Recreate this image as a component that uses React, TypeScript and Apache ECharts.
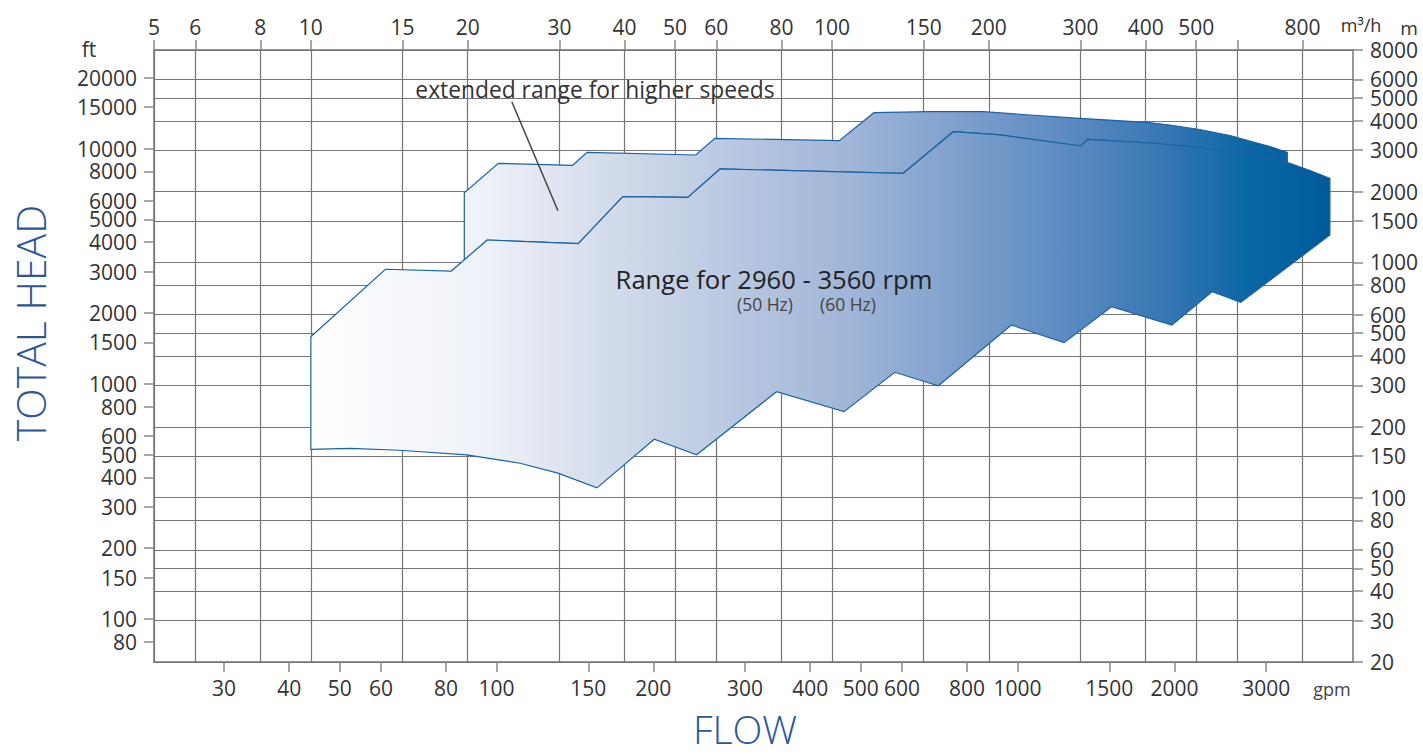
import React, { useEffect, useRef } from 'react';
import * as echarts from 'echarts';

// Unit conversions between the paired axes
const M3H_TO_GPM = 4.402868;
const M_TO_FT = 3.28084;

// Axis ranges (primary units: m³/h and m)
const flowMin = 5;
const flowMax = 1000;
const headMin = 20;
const headMax = 8000;

// Tick values
const m3hTicks = [5, 6, 8, 10, 15, 20, 30, 40, 50, 60, 80, 100, 150, 200, 300, 400, 500, 600, 800];
const m3hLabels = [5, 6, 8, 10, 15, 20, 30, 40, 50, 60, 80, 100, 150, 200, 300, 400, 500, 800];
const gpmTicks = [30, 40, 50, 60, 80, 100, 150, 200, 300, 400, 500, 600, 800, 1000, 1500, 2000, 3000];
const mTicks = [20, 30, 40, 50, 60, 80, 100, 150, 200, 300, 400, 500, 600, 800, 1000, 1500, 2000, 3000, 4000, 5000, 6000, 8000];
const ftTicks = [80, 100, 150, 200, 300, 400, 500, 600, 800, 1000, 1500, 2000, 3000, 4000, 5000, 6000, 8000, 10000, 15000, 20000];

// Range for 2960 - 3560 rpm : [flow m³/h, head m]
const mainUpper = [
  [10, 483], [13.9, 935], [18.6, 919], [21.8, 1245], [32.6, 1201], [39.7, 1903], [52.9, 1891],
  [61.0, 2496], [137, 2393], [171, 3596], [210, 3482], [301, 3126], [309, 3338], [408, 3219],
  [508, 3080], [644, 2862], [757, 2638], [827, 2459], [903, 2278]
];
const mainLower = [
  [903, 1308], [609, 677], [537, 751], [449, 542], [344, 648], [279, 456], [221, 542], [160, 299],
  [132, 341], [105.5, 232], [78.3, 282], [55.0, 152], [45.6, 177], [35.4, 110], [29.8, 127],
  [25.2, 140], [19.9, 152], [14.8, 159], [11.9, 162], [10, 160.5]
];
// Extended range for higher speeds (upper boundary)
const extendedUpper = [
  [19.7, 1023], [19.7, 1979], [22.9, 2638], [31.8, 2587], [33.9, 2938], [54.8, 2862], [59.6, 3370],
  [103.3, 3292], [120.4, 4330], [154, 4378], [195, 4375], [240, 4234], [299, 4100], [402, 3942],
  [445, 3839], [508, 3674], [581, 3464], [644, 3250], [693, 3110], [748, 2938], [748, 2654]
];
// Leader line of the annotation
const leaderLine = [[24.3, 4822], [29.8, 1659]];

const FONT = '"Open Sans", "Noto Sans", sans-serif';
const gridColor = '#747474';
const labelColor = '#333333';
const outlineColor = '#1b62a2';

const gradientStops = [
  { offset: 0, color: '#ffffff' },
  { offset: 0.03, color: '#fcfdff' },
  { offset: 0.17, color: '#eef1f8' },
  { offset: 0.28, color: '#d6deec' },
  { offset: 0.37, color: '#c3cfe5' },
  { offset: 0.53, color: '#a0b5d7' },
  { offset: 0.68, color: '#7097c8' },
  { offset: 0.78, color: '#4f83bd' },
  { offset: 0.85, color: '#3074b0' },
  { offset: 0.92, color: '#0a67a6' },
  { offset: 1, color: '#005a9a' }
];

const mainPolygon = [...mainUpper, ...mainLower];
const extStart = extendedUpper[0][0];
const extEnd = extendedUpper[extendedUpper.length - 1][0];
const extendedPolygon = [
  ...extendedUpper,
  ...mainUpper.filter((p) => p[0] > extStart && p[0] < extEnd).reverse()
];

const gradFrom = mainUpper[0][0];
const gradTo = mainUpper[mainUpper.length - 1][0];

function polygonSeries(name: string, pts: number[][], z: number) {
  return {
    type: 'custom',
    name,
    coordinateSystem: 'cartesian2d',
    xAxisIndex: 1,
    yAxisIndex: 1,
    z,
    silent: true,
    data: pts,
    encode: { x: 0, y: 1 },
    renderItem: (params: any, api: any) => {
      if (params.dataIndex !== 0) return null;
      const points = pts.map((p) => api.coord(p));
      const x0 = api.coord([gradFrom, 100])[0];
      const x1 = api.coord([gradTo, 100])[0];
      return {
        type: 'polygon',
        shape: { points },
        style: {
          fill: new echarts.graphic.LinearGradient(x0, 0, x1, 0, gradientStops, true),
          stroke: outlineColor,
          lineWidth: 1.2,
          lineJoin: 'miter'
        }
      };
    }
  };
}

const labelStyle = {
  color: labelColor,
  fontFamily: FONT,
  fontSize: 21,
  lineHeight: 17,
  formatter: (v: number) => String(Math.round(v))
};

const txt = (x: number, y: number, text: string, fontSize: number, fill: string, extra: any = {}) => ({
  type: 'text',
  z: 100,
  x,
  y,
  ...extra,
  style: {
    text,
    fill,
    fontFamily: FONT,
    fontSize,
    lineHeight: Math.round(fontSize * 0.9),
    align: 'center',
    verticalAlign: 'middle',
    ...(extra.style || {})
  }
});

const option: any = {
  animation: false,
  backgroundColor: '#ffffff',
  grid: { left: 154, right: 70, top: 50, bottom: 92, containLabel: false, outerBoundsMode: 'none' },
  xAxis: [
    {
      type: 'log',
      position: 'bottom',
      min: flowMin * M3H_TO_GPM,
      max: flowMax * M3H_TO_GPM,
      axisLine: { show: true, lineStyle: { color: gridColor, width: 1.5 } },
      axisTick: { show: true, length: 10, customValues: gpmTicks, lineStyle: { color: '#8a8a8a', width: 1.5 } },
      axisLabel: { ...labelStyle, customValues: gpmTicks, margin: 17 },
      splitLine: { show: false },
      minorTick: { show: false },
      minorSplitLine: { show: false }
    },
    {
      type: 'log',
      position: 'top',
      min: flowMin,
      max: flowMax,
      axisLine: { show: true, lineStyle: { color: gridColor, width: 1.5 } },
      axisTick: { show: true, length: 10, customValues: m3hTicks, lineStyle: { color: '#8a8a8a', width: 1.5 } },
      axisLabel: { ...labelStyle, customValues: m3hLabels, margin: 15 },
      splitLine: { show: true, lineStyle: { color: gridColor, width: 1.2 } }
    }
  ],
  yAxis: [
    {
      type: 'log',
      position: 'left',
      min: headMin * M_TO_FT,
      max: headMax * M_TO_FT,
      axisLine: { show: true, lineStyle: { color: gridColor, width: 1.5 } },
      axisTick: { show: true, length: 10, customValues: ftTicks, lineStyle: { color: '#8a8a8a', width: 1.5 } },
      axisLabel: { ...labelStyle, customValues: ftTicks, margin: 17 },
      splitLine: { show: false }
    },
    {
      type: 'log',
      position: 'right',
      min: headMin,
      max: headMax,
      axisLine: { show: true, lineStyle: { color: gridColor, width: 1.5 } },
      axisTick: { show: true, length: 10, customValues: mTicks, lineStyle: { color: '#8a8a8a', width: 1.5 } },
      axisLabel: { ...labelStyle, customValues: mTicks, margin: 17 },
      splitLine: { show: true, lineStyle: { color: gridColor, width: 1.2 } }
    }
  ],
  series: [
    polygonSeries('extended range for higher speeds', extendedPolygon, 3),
    polygonSeries('Range for 2960 - 3560 rpm', mainPolygon, 4),
    {
      type: 'line',
      name: 'leader',
      xAxisIndex: 1,
      yAxisIndex: 1,
      data: leaderLine,
      symbol: 'none',
      silent: true,
      z: 6,
      lineStyle: { color: '#444444', width: 1.5 }
    }
  ],
  graphic: {
    elements: [
      txt(89, 49, 'ft', 21, labelColor),
      txt(1361, 25, 'm³/h', 18, labelColor),
      txt(1409, 28, 'm', 19, labelColor),
      txt(1332, 689, 'gpm', 18, '#444444'),
      txt(30, 323, 'TOTAL HEAD', 41, '#2b5799', { rotation: Math.PI / 2, style: { fontWeight: 300 } }),
      txt(745, 728, 'FLOW', 39, '#2b5799', { style: { fontWeight: 300 } }),
      txt(595, 89, 'extended range for higher speeds', 22.8, labelColor),
      txt(774, 279, 'Range for 2960 - 3560 rpm', 25.6, '#222222'),
      txt(765, 304, '(50 Hz)', 17.5, '#444444'),
      txt(848, 304, '(60 Hz)', 17.5, '#444444')
    ]
  }
};

export default function App() {
  const ref = useRef<HTMLDivElement>(null);
  useEffect(() => {
    if (!ref.current) return;
    const chart = echarts.init(ref.current, null, { renderer: 'svg' });
    chart.setOption(option);
    return () => chart.dispose();
  }, []);
  return (
    <div
      ref={ref}
      style={{ position: 'fixed', left: 0, top: 0, width: 1423, height: 754, background: '#fff' }}
    />
  );
}
